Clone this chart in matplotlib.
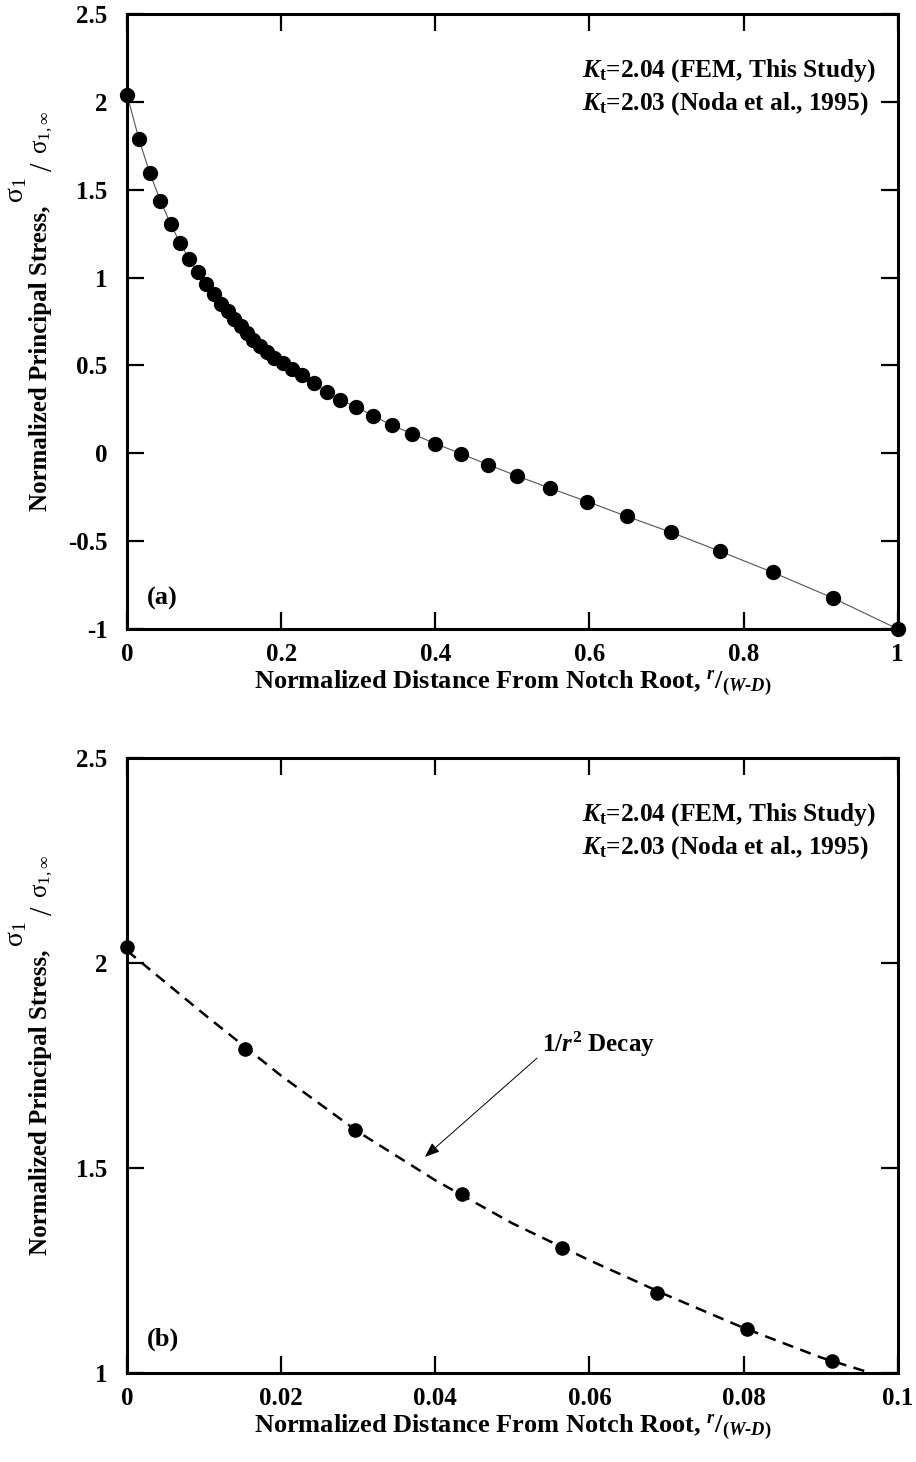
import numpy as np
import matplotlib
matplotlib.use("Agg")
import matplotlib.pyplot as plt

plt.rcParams['font.family'] = ['Liberation Serif', 'DejaVu Serif']
plt.rcParams['font.weight'] = 'bold'
plt.rcParams['axes.unicode_minus'] = False
plt.rcParams['mathtext.fontset'] = 'custom'
plt.rcParams['mathtext.rm'] = 'Liberation Serif:bold'
plt.rcParams['mathtext.it'] = 'Liberation Serif:italic:bold'
plt.rcParams['mathtext.bf'] = 'Liberation Serif:bold'
plt.rcParams['mathtext.sf'] = 'Liberation Serif:regular'

# FEM results: normalized distance vs normalized principal stress
dist = [0, 0.0153, 0.0296, 0.0434, 0.0565, 0.0688, 0.0804, 0.0915, 0.1025, 0.1128,
        0.1222, 0.1306, 0.139, 0.1475, 0.1556, 0.1638, 0.172, 0.181, 0.191, 0.2019,
        0.214, 0.227, 0.2425, 0.259, 0.2767, 0.2974, 0.319, 0.3437, 0.37, 0.4,
        0.433, 0.468, 0.506, 0.549, 0.597, 0.6485, 0.706, 0.769, 0.838, 0.916, 1.0]
stress = [2.04, 1.79, 1.593, 1.437, 1.305, 1.196, 1.108, 1.03, 0.961, 0.904,
          0.851, 0.807, 0.762, 0.722, 0.684, 0.646, 0.611, 0.575, 0.541, 0.515,
          0.48, 0.443, 0.399, 0.349, 0.304, 0.264, 0.213, 0.16, 0.11, 0.055,
          -0.002, -0.064, -0.129, -0.199, -0.275, -0.359, -0.45, -0.557, -0.678, -0.824, -1.0]

# 1/r^2 decay curve (panel b)
decay_x = [0, 0.01, 0.02, 0.03, 0.04, 0.05, 0.06, 0.07, 0.08, 0.09, 0.0965]
decay_y = [2.03, 1.875, 1.725, 1.588, 1.47, 1.365, 1.275, 1.19, 1.11, 1.038, 1.0]

ticks_a_x = [0, 0.2, 0.4, 0.6, 0.8, 1]
ticks_a_y = [-1, -0.5, 0, 0.5, 1, 1.5, 2, 2.5]
ticks_b_x = [0, 0.02, 0.04, 0.06, 0.08, 0.1]
ticks_b_y = [1, 1.5, 2, 2.5]

legend_lines = [r"$K_{\mathrm{t}}$=2.04 (FEM, This Study)",
                r"$K_{\mathrm{t}}$=2.03 (Noda et al., 1995)"]

xlab = r"Normalized Distance From Notch Root, $^{r}/_{(W\text{-}D)}$"

fig = plt.figure(figsize=(9.16, 14.62), dpi=100)
ax1 = fig.add_axes([0.1387, 0.5698, 0.8413, 0.4206])
ax2 = fig.add_axes([0.1387, 0.0609, 0.8413, 0.4206])


def ylabel_parts(ax):
    # main text ends at y0, then sigma_1 / sigma_1,inf built piece by piece
    y0, xb = 0.688, -0.1038
    kw = dict(transform=ax.transAxes, rotation=90, rotation_mode='anchor',
              va='baseline', clip_on=False)
    ax.text(xb, y0, "Normalized Principal Stress,", ha='right', fontsize=18,
            fontweight='bold', **kw)
    ax.text(xb - 0.031, y0 + 0.004, r"$\mathsf{\sigma}_\mathsf{1}$", ha='left',
            fontsize=20, **kw)
    ax.text(xb + 0.006, y0 + 0.056, "/", ha='left', fontsize=22, fontweight='normal', **kw)
    ax.text(xb, y0 + 0.085, r"$\mathsf{\sigma}_\mathsf{1,\infty}$", ha='left',
            fontsize=18, **kw)


def style(ax, xt, yt, xl, yl):
    ax.set_xlim(xl)
    ax.set_ylim(yl)
    ax.set_xticks(xt)
    ax.set_yticks(yt)
    ax.set_xticklabels(['%g' % v for v in xt])
    ax.set_yticklabels(['%g' % v for v in yt])
    for s in ax.spines.values():
        s.set_linewidth(2.2)
    ax.tick_params(direction='in', length=12, width=1.6, top=True, right=True,
                   labelsize=18, pad=10)
    ax.tick_params(axis='y', pad=14)
    ax.set_xlabel(xlab, fontsize=19, fontweight='bold', labelpad=2)
    ylabel_parts(ax)
    for i, t in enumerate(legend_lines):
        ax.text(0.59, 0.899 - i * 0.055, t, transform=ax.transAxes, fontsize=18.3,
                va='baseline', ha='left')


style(ax1, ticks_a_x, ticks_a_y, (0, 1), (-1, 2.5))
ax1.plot(dist, stress, color='#555555', lw=0.8, zorder=2)
ax1.plot(dist, stress, 'o', color='black', ms=10, clip_on=False, zorder=3)
ax1.text(0.026, 0.05, '(a)', transform=ax1.transAxes, fontsize=19, va='center')

style(ax2, ticks_b_x, ticks_b_y, (0, 0.1), (1, 2.5))
bx = [d for d in dist if d <= 0.1]
by = stress[:len(bx)]
ax2.plot(decay_x, decay_y, color='black', lw=1.8, ls=(0, (4.5, 3)), zorder=2)
ax2.plot(bx, by, 'o', color='black', ms=9.5, clip_on=False, zorder=3)
ax2.text(0.026, 0.054, '(b)', transform=ax2.transAxes, fontsize=19, va='center')
ax2.annotate('', xy=(0.03865, 1.527), xytext=(0.0532, 1.768),
             arrowprops=dict(arrowstyle='-|>,head_length=0.9,head_width=0.35',
                             color='black', lw=0.7, shrinkA=0, shrinkB=0))
ax2.text(0.0538, 1.783, r"1/$r^2$ Decay", fontsize=18, va='baseline', ha='left')

fig.savefig('out.png', dpi=100)
